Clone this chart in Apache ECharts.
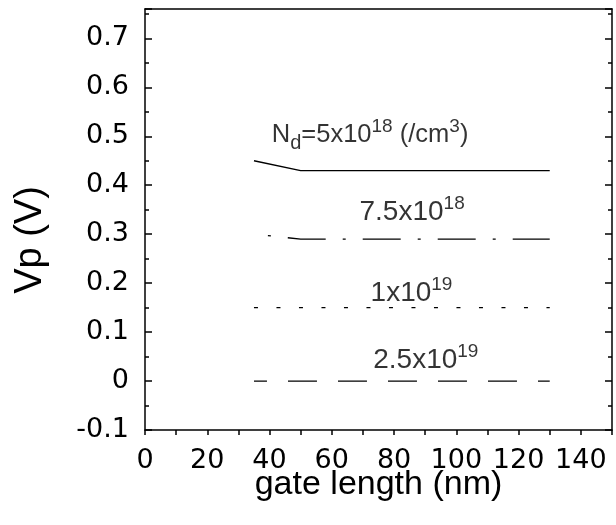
<!DOCTYPE html>
<html>
<head>
<meta charset="utf-8">
<script src="https://cdn.jsdelivr.net/npm/echarts@6/dist/echarts.min.js"></script>
<style>
html,body{margin:0;padding:0;background:#fff;}
#chart{width:616px;height:525px;}
</style>
</head>
<body>
<div id="chart"></div>
<script>
// ---- data ----
var xTitle = 'gate length (nm)';
var yTitle = 'Vp (V)';
var xMin = 0, xMax = 150;
var yMin = -0.1, yMax = 0.76;

var s5e18 = [[35, 0.45], [50, 0.43], [130, 0.43]];
var s75e18 = [[35, 0.30], [50, 0.29], [130, 0.29]];
var s1e19 = [[35, 0.15], [130, 0.15]];
var s25e19 = [[35, 0.0], [130, 0.0]];

var noteX = [72.3, 85.8, 85.6, 90.2];
var noteY = [0.502, 0.344, 0.179, 0.043];
var noteText = [
  '{m|N}{sub|d}{m|=5x10}{sup|18}{m| (/cm}{sup|3}{m|)}',
  '{n|7.5x10}{sup|18}',
  '{n|1x10}{sup|19}',
  '{n|2.5x10}{sup|19}'
];

// ---- chart ----
var chart = echarts.init(document.getElementById('chart'), null, {renderer: 'canvas'});
var black = '#000';
var tickFont = 'DejaVu Sans';
var textFont = 'Liberation Sans';

function yLabel(v) {
  var r = Math.round(v * 100) / 100;
  if (Math.abs(r * 10 - Math.round(r * 10)) > 1e-6) return '';
  if (r > 0.7 + 1e-9) return '';
  if (r === 0) return '0';
  return r.toFixed(1);
}
function xLabel(v) {
  var r = Math.round(v);
  if (r % 20 !== 0 || r > 140) return '';
  return String(r);
}

var notes = [];
for (var i = 0; i < noteX.length; i++) {
  notes.push({value: [noteX[i], noteY[i]], label: {formatter: noteText[i]}});
}

var lineBase = {type: 'line', symbol: 'none', silent: true, animation: false, xAxisIndex: 0, yAxisIndex: 0};

var option = {
  backgroundColor: '#fff',
  animation: false,
  grid: {left: 145, right: 4, top: 9, bottom: 95, containLabel: false},
  xAxis: [
    {
      type: 'value', position: 'bottom', min: xMin, max: xMax, interval: 10,
      name: xTitle, nameLocation: 'middle', nameGap: 38, nameMoveOverlap: false,
      nameTextStyle: {fontFamily: textFont, fontSize: 34, color: black},
      axisLine: {show: true, onZero: false, lineStyle: {color: black, width: 1.5}},
      axisTick: {show: true, inside: false, length: 5, lineStyle: {color: black, width: 1.5}},
      axisLabel: {show: true, formatter: xLabel, fontFamily: tickFont, fontSize: 27, color: black, margin: 17},
      splitLine: {show: false}
    },
    {
      type: 'value', position: 'top', min: xMin, max: xMax, interval: 10,
      axisLine: {show: true, onZero: false, lineStyle: {color: black, width: 1.5}},
      axisTick: {show: false}, axisLabel: {show: false}, splitLine: {show: false}
    }
  ],
  yAxis: [
    {
      type: 'value', position: 'left', min: yMin, max: yMax, interval: 0.1,
      axisLine: {show: true, onZero: false, lineStyle: {color: black, width: 1.5}},
      axisTick: {show: true, inside: true, length: 7, lineStyle: {color: black, width: 1.5}},
      minorTick: {show: true, splitNumber: 2, length: 4, lineStyle: {color: black, width: 1.5}},
      axisLabel: {show: true, formatter: yLabel, fontFamily: tickFont, fontSize: 27, color: black, margin: 16},
      splitLine: {show: false}
    },
    {
      type: 'value', position: 'right', min: yMin, max: yMax, interval: 0.1,
      axisLine: {show: true, onZero: false, lineStyle: {color: black, width: 1.5}},
      axisTick: {show: true, inside: true, length: 7, lineStyle: {color: black, width: 1.5}},
      minorTick: {show: true, splitNumber: 2, length: 4, lineStyle: {color: black, width: 1.5}},
      axisLabel: {show: false}, splitLine: {show: false}
    }
  ],
  graphic: [
    {
      type: 'text', rotation: Math.PI / 2, x: 31, y: 240,
      style: {text: yTitle, font: '38px "Liberation Sans"', fill: black, align: 'center', verticalAlign: 'middle'}
    }
  ],
  series: [
    Object.assign({}, lineBase, {name: 'Nd=5e18', data: s5e18, lineStyle: {color: black, width: 1.3, type: 'solid'}}),
    Object.assign({}, lineBase, {name: 'Nd=7.5e18', data: s75e18, lineStyle: {color: black, width: 1.3, type: [38, 17, 3, 17], dashOffset: 41}}),
    Object.assign({}, lineBase, {name: 'Nd=1e19', data: s1e19, lineStyle: {color: black, width: 1.3, type: [4, 18.5]}}),
    Object.assign({}, lineBase, {name: 'Nd=2.5e19', data: s25e19, lineStyle: {color: black, width: 1.3, type: [29, 21], dashOffset: 16}}),
    {
      type: 'scatter', name: 'notes', symbolSize: 0, silent: true, animation: false,
      xAxisIndex: 0, yAxisIndex: 0,
      data: notes,
      label: {
        show: true, position: 'inside', color: black,
        rich: {
          n: {fontFamily: textFont, fontSize: 28, lineHeight: 36, verticalAlign: 'middle', color: black},
          m: {fontFamily: textFont, fontSize: 25.5, lineHeight: 36, verticalAlign: 'middle', color: black},
          sup: {fontFamily: textFont, fontSize: 19, lineHeight: 23, verticalAlign: 'top', color: black},
          sub: {fontFamily: textFont, fontSize: 20, lineHeight: 18, verticalAlign: 'bottom', color: black}
        }
      }
    }
  ]
};
chart.setOption(option);
</script>
</body>
</html>
